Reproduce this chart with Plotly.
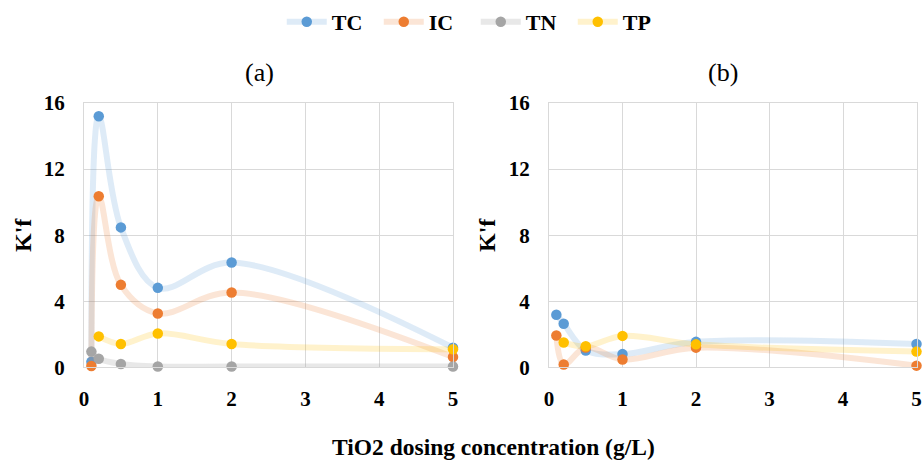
import plotly.graph_objects as go

# Data
x_vals = [0.1, 0.2, 0.5, 1, 2, 5]

tc_a = [0.33, 15.2, 8.47, 4.81, 6.34, 1.19]
ic_a = [0.08, 10.36, 4.99, 3.26, 4.53, 0.62]
tn_a = [0.95, 0.52, 0.2, 0.05, 0.05, 0.05]
tp_a = [None, 1.87, 1.41, 2.05, 1.41, 1.09]

tc_b = [3.18, 2.64, 1.02, 0.8, 1.54, 1.41]
ic_b = [1.92, 0.17, 1.2, 0.47, 1.19, 0.1]
tn_b = [None, None, None, None, None, None]
tp_b = [None, 1.5, 1.27, 1.9, 1.39, 0.95]

series_names = ["TC", "IC", "TN", "TP"]
series_colors = ["#5B9BD5", "#ED7D31", "#A5A5A5", "#FFC000"]
line_colors = ["rgba(91,155,213,0.2)", "rgba(237,125,49,0.2)",
               "rgba(165,165,165,0.25)", "rgba(255,192,0,0.2)"]

x_ticks = [0, 1, 2, 3, 4, 5]
y_ticks = [0, 4, 8, 12, 16]

FONT = "Liberation Serif, Tinos, Times New Roman, Times, serif"

fig = go.Figure()

panels = [
    ([tc_a, ic_a, tn_a, tp_a], "x", "y", True),
    ([tc_b, ic_b, tn_b, tp_b], "x2", "y2", False),
]
for data, xa, ya, show in panels:
    for name, vals, mc, lc in zip(series_names, data, series_colors, line_colors):
        fig.add_trace(go.Scatter(
            x=x_vals, y=vals, name=name, mode="lines+markers",
            xaxis=xa, yaxis=ya, showlegend=show, legendgroup=name,
            line=dict(color=lc, width=6, shape="spline", smoothing=1.0),
            marker=dict(color=mc, size=10.5),
            connectgaps=False, cliponaxis=False,
        ))

axis_common = dict(
    showgrid=True, gridcolor="#D9D9D9", gridwidth=1,
    showline=True, linecolor="#D9D9D9", linewidth=1, mirror=True,
    zeroline=False, ticks="outside", tickcolor="rgba(0,0,0,0)",
    tickfont=dict(family=FONT, size=21, color="black", weight="bold"),
    automargin=False, fixedrange=True,
)

H = 461
y_dom = [(H - 367.3) / H, (H - 103) / H]

fig.update_layout(
    width=922, height=461,
    margin=dict(l=0, r=0, t=0, b=0),
    paper_bgcolor="white", plot_bgcolor="white",
    font=dict(family=FONT, color="black"),
    xaxis=dict(domain=[84 / 922, 453 / 922], range=[0, 5], tickvals=x_ticks,
               ticklen=12, anchor="y", **axis_common),
    yaxis=dict(domain=y_dom, range=[0, 16], tickvals=y_ticks,
               ticklen=14, anchor="x", **axis_common),
    xaxis2=dict(domain=[549 / 922, 916.5 / 922], range=[0, 5], tickvals=x_ticks,
                ticklen=12, anchor="y2", **axis_common),
    yaxis2=dict(domain=y_dom, range=[0, 16], tickvals=y_ticks,
                ticklen=14, anchor="x2", **axis_common),
    legend=dict(orientation="h", x=0.516, xanchor="center",
                y=(H - 22) / H, yanchor="middle",
                font=dict(family=FONT, size=22, color="black", weight="bold"),
                itemwidth=40, tracegroupgap=0,
                entrywidth=42, entrywidthmode="pixels"),
    showlegend=True,
)

ann_font_b = dict(family=FONT, size=24, color="black", weight="bold")
annotations = [
    dict(text="(a)", x=259 / 922, y=(H - 73) / H, font=dict(family=FONT, size=26, color="black")),
    dict(text="(b)", x=723 / 922, y=(H - 73) / H, font=dict(family=FONT, size=26, color="black")),
    dict(text="K'f", x=23 / 922, y=(H - 235) / H, textangle=-90, font=ann_font_b),
    dict(text="K'f", x=487 / 922, y=(H - 235) / H, textangle=-90, font=ann_font_b),
    dict(text="TiO2 dosing concentration (g/L)", x=493 / 922, y=(H - 447) / H,
         font=dict(family=FONT, size=23.5, color="black", weight="bold")),
]
for a in annotations:
    a.update(xref="paper", yref="paper", showarrow=False, xanchor="center", yanchor="middle")
fig.update_layout(annotations=annotations)

fig.write_html("out.html", config={"displayModeBar": False},
               post_script="document.body.style.margin='0';document.body.style.overflow='hidden';")
